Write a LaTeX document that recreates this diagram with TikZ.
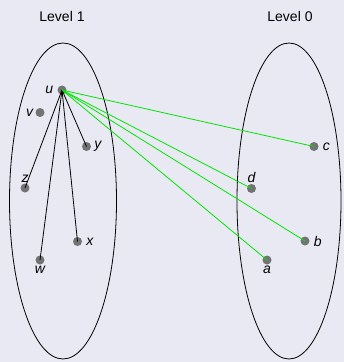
\documentclass[tikz,border=0pt]{standalone}
\usepackage{fontspec}
\setmainfont{Liberation Sans}
\begin{document}
\begin{tikzpicture}[x=1pt,y=-1pt,
  dot/.style={circle,fill=black!55,minimum size=9pt,inner sep=0pt},
  lbl/.style={font=\fontsize{14}{16}\selectfont\itshape,inner sep=1pt},
  ttl/.style={font=\fontsize{14}{16}\selectfont},
  blk/.style={draw=black,line width=0.8pt},
  grn/.style={draw={rgb,255:red,0;green,230;blue,0},line width=0.8pt},
  set/.style={draw=black,line width=0.8pt}]
\fill[fill={rgb,255:red,233;green,233;blue,243}] (0,0) rectangle (344,362);
\useasboundingbox (0,0) rectangle (344,362);
\node[ttl] (t1) at (62,16) {Level 1};
\node[ttl] (t0) at (290,16) {Level 0};
\draw[set] (63,201) ellipse [x radius=53.5, y radius=158];
\draw[set] (289,201) ellipse [x radius=52, y radius=158];
\node[dot] (u) at (62,90) {};
\node[dot] (v) at (40,112.5) {};
\node[dot] (y) at (86.5,146.5) {};
\node[dot] (z) at (25,188) {};
\node[dot] (x) at (77.5,241.5) {};
\node[dot] (w) at (40,260) {};
\node[dot] (c) at (314,146.5) {};
\node[dot] (d) at (251.5,188.5) {};
\node[dot] (b) at (305,241) {};
\node[dot] (a) at (267,260) {};
\node[lbl,left=3pt] (lu) at (u.west) {u};
\node[lbl,left=1pt] (lv) at (v.west) {v};
\node[lbl,right=2pt] (ly) at (y.east) {y};
\node[lbl,above=0pt] (lz) at (z.north) {z};
\node[lbl,right=3pt] (lx) at (x.east) {x};
\node[lbl,below=0pt] (lw) at (w.south) {w};
\node[lbl,right=3pt] (lc) at (c.east) {c};
\node[lbl,above=0pt] (ld) at (d.north) {d};
\node[lbl,right=3pt] (lb) at (b.east) {b};
\node[lbl,below=0pt] (la) at (a.south) {a};
\foreach \t in {y,z,w,x} \draw[blk] (u.center) -- (\t.center);
\foreach \t in {c,d,b,a} \draw[grn] (u.center) -- (\t.center);
\end{tikzpicture}
\end{document}
